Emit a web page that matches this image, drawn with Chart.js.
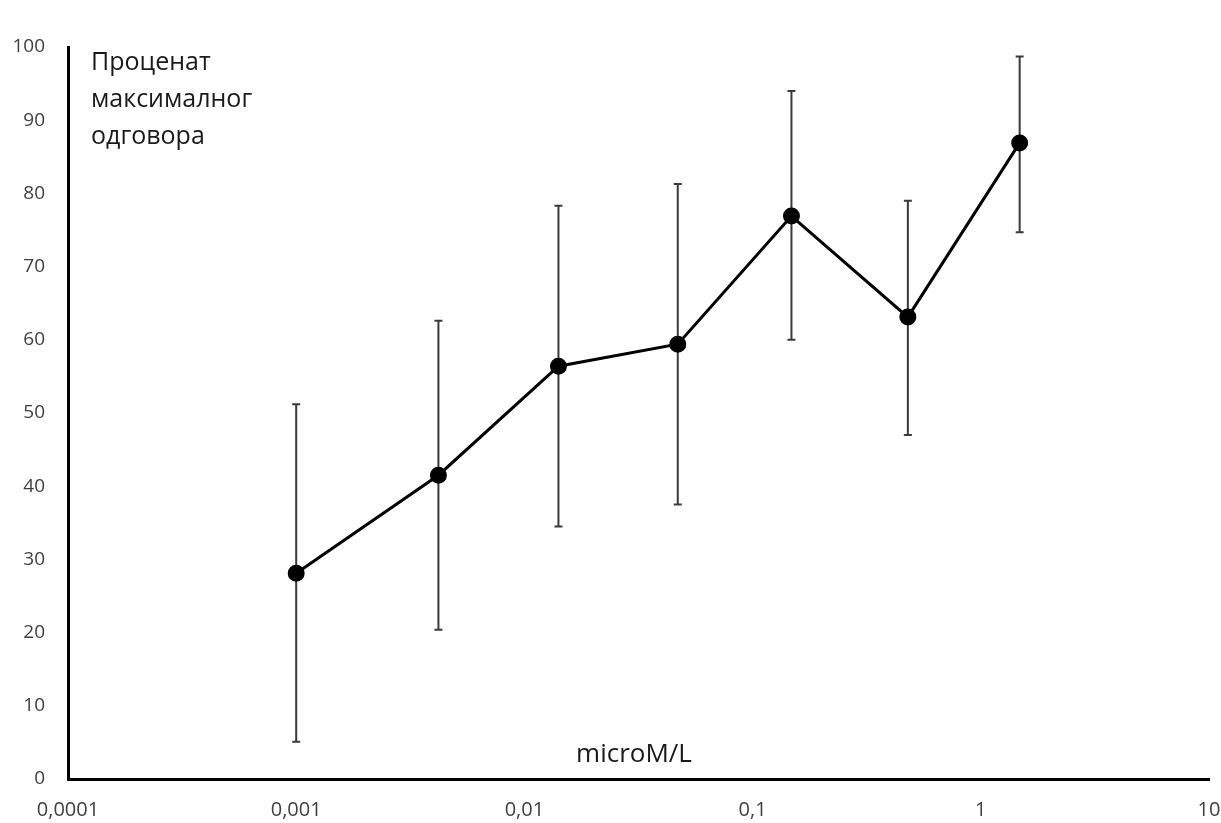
<!DOCTYPE html>
<html>
<head>
<meta charset="utf-8">
<script src="https://cdn.jsdelivr.net/npm/chart.js@4"></script>
<style>
  html, body { margin: 0; padding: 0; background: #fff; }
  #wrap { width: 1221px; height: 823px; position: relative; }
</style>
</head>
<body>
<div id="wrap"><canvas id="chart"></canvas></div>
<script>
// concentrations (microM/L) and response values
const doses = [0.001, 0.0042, 0.0141, 0.047, 0.148, 0.479, 1.48];
const means = [28.1, 41.5, 56.4, 59.4, 76.9, 63.1, 86.9];
const upper = [51.2, 62.6, 78.3, 81.3, 94.0, 79.0, 98.7];
const lower = [5.1, 20.4, 34.5, 37.5, 60.0, 47.0, 74.7];
const xTicks = [0.0001, 0.001, 0.01, 0.1, 1, 10];
const yLabel = ["Проценат", "максималног", "одговора"];
const xLabel = "microM/L";

const points = doses.map((d, i) => ({ x: d, y: means[i] }));

// error bars drawn under the markers, from the chart scales
const errorBars = {
  id: "errorBars",
  beforeDatasetsDraw(chart) {
    const ctx = chart.ctx;
    const xs = chart.scales.x, ys = chart.scales.y;
    ctx.save();
    ctx.strokeStyle = "#3a3a3a";
    ctx.lineWidth = 2;
    doses.forEach((d, i) => {
      const px = xs.getPixelForValue(d);
      const top = ys.getPixelForValue(upper[i]);
      const bot = ys.getPixelForValue(lower[i]);
      ctx.beginPath();
      ctx.moveTo(px, top); ctx.lineTo(px, bot);
      ctx.moveTo(px - 4, top); ctx.lineTo(px + 4, top);
      ctx.moveTo(px - 4, bot); ctx.lineTo(px + 4, bot);
      ctx.stroke();
    });
    ctx.restore();
  }
};

// axis captions placed inside the plot, like the original
const captions = {
  id: "captions",
  afterDraw(chart) {
    const ctx = chart.ctx;
    const a = chart.chartArea;
    ctx.save();
    ctx.fillStyle = "#1a1a1a";
    ctx.font = "25px 'Open Sans', sans-serif";
    ctx.textBaseline = "middle";
    ctx.textAlign = "left";
    yLabel.forEach((t, i) => ctx.fillText(t, a.left + 23, a.top + 16 + i * 37));
    ctx.font = "26px 'Open Sans', sans-serif";
    ctx.textAlign = "center";
    ctx.fillText(xLabel, 634, a.bottom - 24);
    ctx.restore();
  }
};

new Chart(document.getElementById("chart"), {
  type: "line",
  data: {
    datasets: [{
      data: points,
      borderColor: "#000",
      borderWidth: 3,
      backgroundColor: "#000",
      pointRadius: 7,
      pointHoverRadius: 7,
      tension: 0
    }]
  },
  options: {
    responsive: true,
    maintainAspectRatio: false,
    animation: false,
    layout: { padding: { top: 47, right: 12, left: 0, bottom: 0 } },
    plugins: { legend: { display: false }, tooltip: { enabled: false } },
    scales: {
      x: {
        type: "logarithmic",
        min: 0.0001,
        max: 10,
        afterBuildTicks(axis) { axis.ticks = xTicks.map(v => ({ value: v })); },
        afterFit(axis) { axis.height = 44; axis.paddingRight = 0; axis.paddingLeft = 0; },
        grid: { display: false, drawTicks: false },
        border: { display: true, color: "#000", width: 3 },
        ticks: {
          color: "#404040",
          font: { family: "'Open Sans', sans-serif", size: 20 },
          padding: 19,
          maxRotation: 0,
          autoSkip: false,
          callback: v => String(v).replace(".", ",")
        }
      },
      y: {
        min: 0,
        max: 100,
        afterFit(axis) { axis.width = 68; },
        grid: { display: false, drawTicks: false },
        border: { display: true, color: "#000", width: 3 },
        ticks: {
          stepSize: 10,
          color: "#404040",
          font: { family: "'Open Sans', sans-serif", size: 19 },
          padding: 23
        }
      }
    }
  },
  plugins: [errorBars, captions]
});
</script>
</body>
</html>
